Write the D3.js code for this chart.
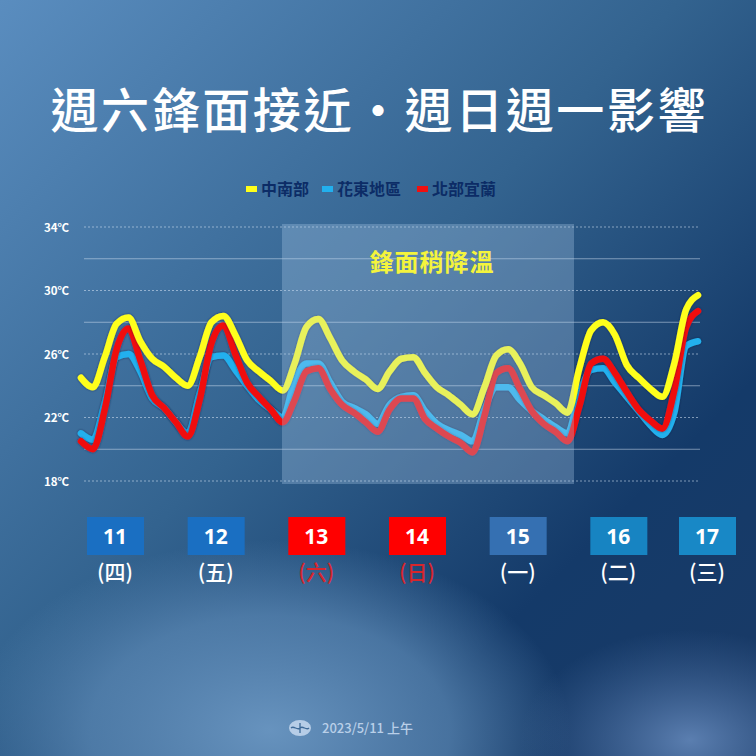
<!DOCTYPE html>
<html>
<head>
<meta charset="utf-8">
<script src="https://cdn.jsdelivr.net/npm/d3@7"></script>
<style>
  html, body { margin: 0; padding: 0; background: #1d3c66; }
  svg { display: block; font-family: "Noto Sans CJK TC", "Noto Sans", sans-serif; }
</style>
</head>
<body>
<div id="chart" style="width:756px;height:756px"></div>
<script>
// hours since 11th 00:00, every 3h up to 17th 12:00
const hours = d3.range(0, 157, 3);

const central = [
  24.5, 23.9, 25.8, 27.9, 28.3, 26.8, 25.7, 25.2,
  24.5, 24.0, 25.8, 28.0, 28.4, 27.2, 25.6, 24.9,
  24.3, 23.7, 25.4, 27.7, 28.2, 27.0, 25.6, 24.9,
  24.4, 23.8, 24.9, 25.7, 25.8, 24.8, 23.9, 23.4,
  22.8, 22.2, 23.9, 25.9, 26.3, 25.4, 23.9, 23.4,
  22.9, 22.3, 25.1, 27.5, 28.0, 27.2, 25.3, 24.5,
  23.8, 23.3, 25.4, 28.8, 29.7
];
const east = [
  21.0, 20.6, 22.9, 25.8, 26.0, 24.9, 23.2, 22.6,
  21.7, 21.0, 23.5, 25.8, 25.9, 25.0, 24.0, 23.1,
  22.5, 22.0, 24.3, 25.4, 25.4, 24.2, 23.0, 22.6,
  22.2, 21.6, 22.8, 23.3, 23.4, 22.4, 21.6, 21.2,
  20.9, 20.5, 22.5, 23.9, 23.9, 23.1, 22.4, 21.9,
  21.4, 21.0, 23.5, 25.0, 25.1, 24.2, 23.3, 22.4,
  21.5, 20.9, 22.3, 26.5, 26.8
];
const north = [
  20.5, 20.0, 22.5, 26.3, 27.6, 25.6, 23.4, 22.6,
  21.7, 20.8, 23.1, 26.7, 27.8, 26.0, 24.2, 23.3,
  22.5, 21.7, 23.1, 24.9, 25.1, 23.8, 22.8, 22.3,
  21.7, 21.1, 22.5, 23.2, 23.2, 21.9, 21.3, 20.8,
  20.4, 19.8, 22.1, 24.8, 25.1, 23.8, 22.4, 21.6,
  21.1, 20.5, 22.7, 25.4, 25.7, 24.8, 23.6, 22.5,
  21.8, 21.3, 23.7, 27.7, 28.7
];

const seriesNames = ["中南部", "花東地區", "北部宜蘭"];
const seriesColors = ["#ffff1a", "#22b0ee", "#f01010"];

const yTicks = [18, 22, 26, 30, 34];
const yMinor = [20, 24, 28, 32];

const days = ["11", "12", "13", "14", "15", "16", "17"];
const weekdays = ["(四)", "(五)", "(六)", "(日)", "(一)", "(二)", "(三)"];
const dayColors = ["#1a6fc2", "#1a6fc2", "#ff0000", "#ff0000", "#3570b2", "#1784c2", "#1888c6"];

const title = "週六鋒面接近・週日週一影響";
const frontLabel = "鋒面稍降溫";
const footer = "2023/5/11 上午";

const width = 756, height = 756;

const svg = d3.select("#chart").append("svg")
  .attr("width", width)
  .attr("height", height);

const defs = svg.append("defs");

const bg = defs.append("linearGradient").attr("id", "bg")
  .attr("x1", 0).attr("y1", 0).attr("x2", 1).attr("y2", 1);
bg.append("stop").attr("offset", 0).attr("stop-color", "#5a8dbf");
bg.append("stop").attr("offset", 0.45).attr("stop-color", "#33638f");
bg.append("stop").attr("offset", 0.75).attr("stop-color", "#143a69");
bg.append("stop").attr("offset", 1).attr("stop-color", "#1a3a66");

const glow = defs.append("radialGradient").attr("id", "glow")
  .attr("cx", 0.5).attr("cy", 0.5).attr("r", 0.5);
glow.append("stop").attr("offset", 0).attr("stop-color", "#6b97c2").attr("stop-opacity", 0.95);
glow.append("stop").attr("offset", 0.6).attr("stop-color", "#5d8ab6").attr("stop-opacity", 0.7);
glow.append("stop").attr("offset", 1).attr("stop-color", "#5d8ab6").attr("stop-opacity", 0);

const glow2 = defs.append("radialGradient").attr("id", "glow2")
  .attr("cx", 0.5).attr("cy", 0.5).attr("r", 0.5);
glow2.append("stop").attr("offset", 0).attr("stop-color", "#6286b8").attr("stop-opacity", 0.9);
glow2.append("stop").attr("offset", 1).attr("stop-color", "#4a6fa2").attr("stop-opacity", 0);

const shadow = defs.append("filter").attr("id", "shadow")
  .attr("x", "-5%").attr("y", "-10%").attr("width", "110%").attr("height", "120%");
shadow.append("feDropShadow").attr("dx", 0).attr("dy", 0)
  .attr("stdDeviation", 1.2).attr("flood-color", "#0a2040").attr("flood-opacity", 0.6);

svg.append("rect").attr("width", width).attr("height", height).attr("fill", "url(#bg)");
svg.append("ellipse").attr("cx", 270).attr("cy", 730).attr("rx", 300).attr("ry", 190)
  .attr("fill", "url(#glow)");
svg.append("ellipse").attr("cx", 690).attr("cy", 740).attr("rx", 170).attr("ry", 110)
  .attr("fill", "url(#glow2)");

// title
svg.append("text")
  .attr("x", width / 2)
  .attr("y", 128)
  .attr("text-anchor", "middle")
  .attr("fill", "#fff")
  .attr("font-size", 48)
  .attr("font-weight", 500)
  .attr("textLength", 655)
  .attr("lengthAdjust", "spacing")
  .text(title);

// legend
const legend = svg.append("g").attr("font-size", 16).attr("font-weight", 700);
const legendX = [246, 322, 417];
seriesNames.forEach((name, i) => {
  legend.append("rect")
    .attr("x", legendX[i]).attr("y", 186)
    .attr("width", 11).attr("height", 6)
    .attr("fill", seriesColors[i]);
  legend.append("text")
    .attr("x", legendX[i] + 15).attr("y", 195)
    .attr("fill", "#0c2c66")
    .text(name);
});

const x = d3.scaleLinear().domain([0, 156]).range([81, 698]);
const y = d3.scaleLinear().domain([18, 34]).range([481, 227]);
const gridLeft = 84, gridRight = 700;

// grid
const grid = svg.append("g");
grid.selectAll("line.major")
  .data(yTicks)
  .join("line")
  .attr("class", "major")
  .attr("x1", gridLeft).attr("x2", gridRight)
  .attr("y1", d => y(d)).attr("y2", d => y(d))
  .attr("stroke", "#d8e6f5").attr("stroke-opacity", 0.55)
  .attr("stroke-dasharray", "2,2");
grid.selectAll("line.minor")
  .data(yMinor)
  .join("line")
  .attr("class", "minor")
  .attr("x1", gridLeft).attr("x2", gridRight)
  .attr("y1", d => y(d)).attr("y2", d => y(d))
  .attr("stroke", "#d8e6f5").attr("stroke-opacity", 0.5);

svg.append("g")
  .attr("transform", `translate(${gridLeft - 12},0)`)
  .call(d3.axisLeft(y).tickValues(yTicks).tickSize(0).tickFormat(d => d + "℃"))
  .call(g => g.select(".domain").remove())
  .call(g => g.selectAll("text")
    .attr("fill", "#fff")
    .attr("font-size", 11.5)
    .attr("font-weight", 700)
    .attr("font-family", "'Noto Sans CJK TC', sans-serif")
    .attr("dy", "0.35em"));

// lines
const line = d3.line()
  .x((d, i) => x(hours[i]))
  .y(d => y(d))
  .curve(d3.curveMonotoneX);

const seriesData = [central, east, north];
const drawOrder = [1, 2, 0];
const lines = svg.append("g").attr("fill", "none")
  .attr("stroke-linejoin", "round").attr("stroke-linecap", "round");
drawOrder.forEach(i => {
  lines.append("path")
    .datum(seriesData[i])
    .attr("d", line)
    .attr("stroke", seriesColors[i])
    .attr("stroke-width", 6.5)
    .attr("filter", "url(#shadow)");
});

// front period overlay
const fx0 = 282, fx1 = 574;
svg.append("rect")
  .attr("x", fx0).attr("y", y(34) - 3)
  .attr("width", fx1 - fx0).attr("height", y(18) - y(34) + 6)
  .attr("fill", "#b4d2f0").attr("fill-opacity", 0.3);
svg.append("text")
  .attr("x", (fx0 + fx1) / 2 + 4).attr("y", 271)
  .attr("text-anchor", "middle")
  .attr("fill", "#f4f43c")
  .attr("font-size", 24).attr("font-weight", 700)
  .attr("letter-spacing", 1)
  .text(frontLabel);

// day boxes
const dayX = d3.scaleLinear().domain([0, 6]).range([115, 719]);
const dayPos = i => Math.min(dayX(i), 707);
const dayG = svg.append("g").selectAll("g")
  .data(days)
  .join("g")
  .attr("transform", (d, i) => `translate(${dayPos(i)},0)`);
dayG.append("rect")
  .attr("x", -28).attr("y", 517)
  .attr("width", 57).attr("height", 38)
  .attr("fill", (d, i) => dayColors[i]);
dayG.append("text")
  .attr("y", 544).attr("text-anchor", "middle")
  .attr("fill", "#fff").attr("font-size", 21).attr("font-weight", 700)
  .attr("font-family", "'Open Sans', 'Noto Sans', sans-serif")
  .text(d => d);
dayG.append("text")
  .attr("y", 580).attr("text-anchor", "middle")
  .attr("fill", (d, i) => (i === 2 || i === 3) ? "#d8262c" : "#fff")
  .attr("font-size", 21).attr("font-weight", 500)
  .text((d, i) => weekdays[i]);

// footer
const logo = svg.append("g").attr("transform", "translate(300,728)");
logo.append("ellipse").attr("rx", 11).attr("ry", 8).attr("fill", "#c5d8ee").attr("fill-opacity", 0.85);
logo.append("path")
  .attr("d", "M-9,0 C-6,-3 -3,3 0,0 C3,-3 6,3 9,0 M0,-5 L0,5")
  .attr("stroke", "#3e6a98").attr("stroke-width", 1.3).attr("fill", "none");
svg.append("text")
  .attr("x", 322).attr("y", 733)
  .attr("fill", "#b9cfe8").attr("font-size", 13).attr("font-weight", 500)
  .text(footer);
</script>
</body>
</html>
